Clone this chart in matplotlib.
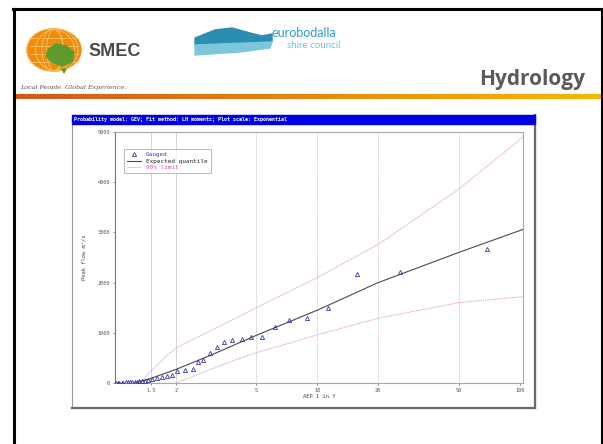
import numpy as np
import matplotlib
matplotlib.use('Agg')
import matplotlib.pyplot as plt
from matplotlib.patches import Rectangle, Ellipse, Polygon
from matplotlib.colors import LinearSegmentedColormap
from matplotlib.lines import Line2D

W, H = 603, 444
MONO = 'DejaVu Sans Mono'

# ---- data ----
TITLE = 'Probability model: GEV; Fit method: LH moments; Plot scale: Exponential'
X_TICKS = [1.5, 2, 5, 10, 20, 50, 100]
X_TICK_LABELS = ['1.5', '2', '5', '10', '20', '50', '100']
Y_TICKS = [0, 1000, 2000, 3000, 4000, 5000]

GAUGED_Y = [1.01, 1.03, 1.05, 1.08, 1.10, 1.13, 1.16, 1.19, 1.22, 1.25, 1.29, 1.32,
            1.36, 1.40, 1.45, 1.52, 1.61, 1.71, 1.80, 1.91, 2.02, 2.22, 2.43, 2.57,
            2.72, 2.94, 3.19, 3.45, 3.78, 4.24, 4.69, 5.32, 6.17, 7.23, 8.9, 11.3,
            15.7, 25.6, 68.8]
GAUGED_Q = [0, 0, 0, 5, 5, 10, 10, 15, 15, 20, 25, 30,
            35, 45, 60, 80, 100, 120, 130, 150, 240, 260, 270, 420,
            460, 600, 720, 820, 860, 880, 920, 920, 1120, 1260, 1300, 1500,
            2180, 2220, 2660]

EXP_Y = [1.25, 1.5, 2, 3, 5, 10, 20, 50, 104]
EXP_Q = [0, 90, 270, 560, 950, 1450, 2000, 2600, 3060]

UPPER_Y = [1.33, 1.5, 1.75, 2, 3, 5, 10, 20, 50, 104]
UPPER_Q = [0, 230, 500, 700, 1050, 1500, 2100, 2760, 3860, 4900]

LOWER_Y = [2, 3, 4.6, 10, 20, 50, 104]
LOWER_Q = [0, 280, 560, 960, 1290, 1600, 1720]


def box(x0, y0, x1, y1):
    return [x0 / W, 1 - y1 / H, (x1 - x0) / W, (y1 - y0) / H]


fig = plt.figure(figsize=(W / 100, H / 100), dpi=100)
fig.patch.set_facecolor('white')

# ---- slide background in pixel coords ----
bg = fig.add_axes([0, 0, 1, 1], zorder=0)
bg.set_xlim(0, W)
bg.set_ylim(H, 0)
bg.axis('off')

# slide border
bg.plot([13.5, 13.5], [9, H], color='black', lw=2.2)
bg.plot([13, W], [9, 9], color='black', lw=2.2)
bg.plot([601.5, 601.5], [9, H], color='black', lw=2.2)

# orange rule under header
cmap = LinearSegmentedColormap.from_list('rule', ['#d2571c', '#e9860f', '#f6b800'])
bg.imshow(np.linspace(0, 1, 300).reshape(1, -1), cmap=cmap, aspect='auto',
          extent=(15, 601, 99.5, 95.5), zorder=1)

# SMEC logo (rough)
bg.add_patch(Ellipse((54, 50), 54, 42, color='#ef8c0e', zorder=2))
for dx in (-16, -6, 4, 14):
    bg.add_patch(Ellipse((54 + dx * 0.2, 50), abs(dx) * 2.6 + 6, 42, fill=False,
                         ec='#f7c060', lw=0.6, zorder=3))
for yy in (38, 46, 54, 62):
    bg.plot([30, 78], [yy, yy], color='#f7c060', lw=0.6, zorder=3)
bg.add_patch(Polygon([[48, 50], [56, 44], [66, 46], [74, 52], [72, 62], [62, 66],
                      [52, 62], [46, 56]], color='#5d9b2e', zorder=4))
bg.add_patch(Polygon([[62, 69], [66, 69], [64, 73]], color='#5d9b2e', zorder=4))
bg.text(88, 52, 'SMEC', fontsize=13, fontweight='bold', color='#4a4a4a',
        family='Liberation Sans', va='center', ha='left')
bg.text(20, 88, 'Local People. Global Experience.', fontsize=4.6, style='italic',
        color='#555555', family='DejaVu Serif', va='center', ha='left')

# eurobodalla logo (rough)
bg.add_patch(Polygon([[195, 38], [215, 30], [232, 28], [250, 33], [262, 36],
                      [272, 34], [272, 42], [195, 45]], color='#2b8db0', zorder=2))
bg.add_patch(Polygon([[195, 45], [272, 42], [270, 48], [240, 52], [195, 55]],
                     color='#7cc7dc', zorder=2))
bg.text(272, 33, 'eurobodalla', fontsize=9, color='#2b9ad0', family='Lato',
        va='center', ha='left')
bg.text(287, 46, 'shire council', fontsize=7, color='#6fc0e0', family='Lato',
        va='center', ha='left')

bg.text(585, 80, 'Hydrology', fontsize=15, fontweight='bold', color='#5a5a5a',
        family='Open Sans', va='center', ha='right')

# chart window frame and title bar
bg.add_patch(Rectangle((72, 115), 463, 293, fc='white', ec='#9a9a9a', lw=0.8, zorder=2))
bg.plot([535, 535], [115, 408], color='#6a6a6a', lw=1.6, zorder=3)
bg.plot([72, 535], [408, 408], color='#6a6a6a', lw=1.6, zorder=3)
bg.add_patch(Rectangle((72, 115), 463, 9, color='#0000e6', zorder=3))
bg.text(74, 119.6, TITLE, fontsize=3.6, fontweight='bold', color='white',
        family=MONO, va='center', ha='left', zorder=4)

# ---- the chart ----
ax = fig.add_axes(box(115, 132, 523, 383), zorder=2)
ax.set_xscale('log')
ax.set_xlim(1, 104)
ax.set_ylim(0, 5000)

for t in X_TICKS[:2]:
    ax.axvline(t, color='#cfcfcf', lw=0.6, zorder=1)
for t in X_TICKS[2:-1]:
    ax.axvline(t, color='#bdbdbd', lw=0.6, ls=(0, (1, 1)), zorder=1)

PINK = '#e49ad6'
ax.plot(UPPER_Y, UPPER_Q, color=PINK, lw=0.7, ls=(0, (1.2, 0.8)), zorder=2)
ax.plot(LOWER_Y, LOWER_Q, color=PINK, lw=0.7, ls=(0, (1.2, 0.8)), zorder=2)
ax.plot(EXP_Y, EXP_Q, color='#4a4a4a', lw=0.8, zorder=3)
ax.plot(GAUGED_Y, GAUGED_Q, ls='none', marker='^', ms=3, mfc='none',
        mec='#3a3aa8', mew=0.6, zorder=4)

ax.set_xticks(X_TICKS)
ax.set_xticklabels(X_TICK_LABELS)
ax.xaxis.set_minor_locator(matplotlib.ticker.NullLocator())
ax.set_yticks(Y_TICKS)
ax.set_yticklabels([str(v) for v in Y_TICKS])
ax.tick_params(labelsize=3.8, length=1.5, width=0.5, colors='#555555', pad=2)
for lab in ax.get_xticklabels() + ax.get_yticklabels():
    lab.set_family(MONO)
for s in ax.spines.values():
    s.set_color('#a8a8a8')
    s.set_linewidth(0.8)
ax.spines['left'].set_color('#777777')

ax.set_xlabel('AEP 1 in Y', fontsize=3.9, family=MONO, color='#444444', labelpad=1)
ax.set_ylabel('Peak flow m\u00b3/s', fontsize=3.9, family=MONO, color='#444444', labelpad=8)

handles = [
    Line2D([], [], ls='none', marker='^', ms=3, mfc='none', mec='#3a3aa8', mew=0.6),
    Line2D([], [], color='#4a4a4a', lw=0.8),
    Line2D([], [], color=PINK, lw=0.7, ls=(0, (1.2, 0.8))),
]
leg = ax.legend(handles, ['Gauged', 'Expected quantile', '90% limit'],
                loc='upper left', bbox_to_anchor=(0.015, 0.945),
                prop={'family': MONO, 'size': 4.3}, frameon=True, fancybox=False,
                edgecolor='#999999', handlelength=2.4, borderpad=0.5,
                labelspacing=0.25)
leg.get_frame().set_linewidth(0.6)
for txt, c in zip(leg.get_texts(), ['#3a3aa8', '#222222', '#cc55aa']):
    txt.set_color(c)

fig.savefig('out.png', dpi=100)
